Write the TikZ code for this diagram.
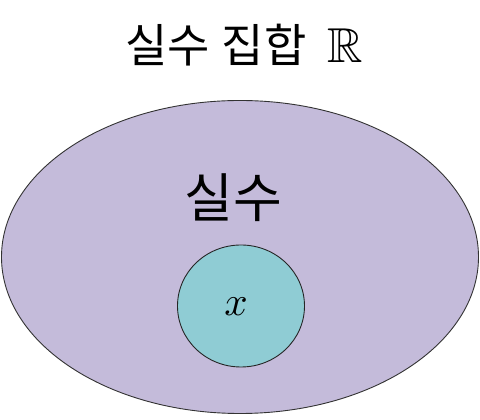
\documentclass[tikz,border=0pt]{standalone}
\usepackage{amssymb}
\usepackage{graphicx}
\usepackage{fontspec}
\usetikzlibrary{positioning}
\newfontfamily\kor{Noto Sans CJK KR}
\definecolor{setfill}{RGB}{196,187,218}
\definecolor{elemfill}{RGB}{143,204,212}
\newcommand{\kt}[1]{{\kor #1}}

\begin{document}
\begin{tikzpicture}[x=1pt,y=1pt]
   \useasboundingbox (0,0) rectangle (480,420);
   \filldraw[fill=setfill,draw=black!80,line width=0.9pt] (240,163) ellipse [x radius=238.5,y radius=156.5];
   \filldraw[fill=elemfill,draw=black!85,line width=0.9pt] (241,114) ellipse [x radius=63.5,y radius=61];
   \node[inner sep=0pt] (title) at (216,375) {\fontsize{46}{46}\selectfont\kt{실수}\hspace{12pt}\kt{집합}};
   \node[inner sep=0pt,right=20pt of title,yshift=-1pt] (rset) {\scalebox{4.9}{$\mathbb{R}$}};
   \node (reals) at (233,222) {\fontsize{53}{53}\selectfont\kt{실수}};
   \node (elem)  at (236,113) {\scalebox{4.1}{$x$}};
\end{tikzpicture}
\end{document}
